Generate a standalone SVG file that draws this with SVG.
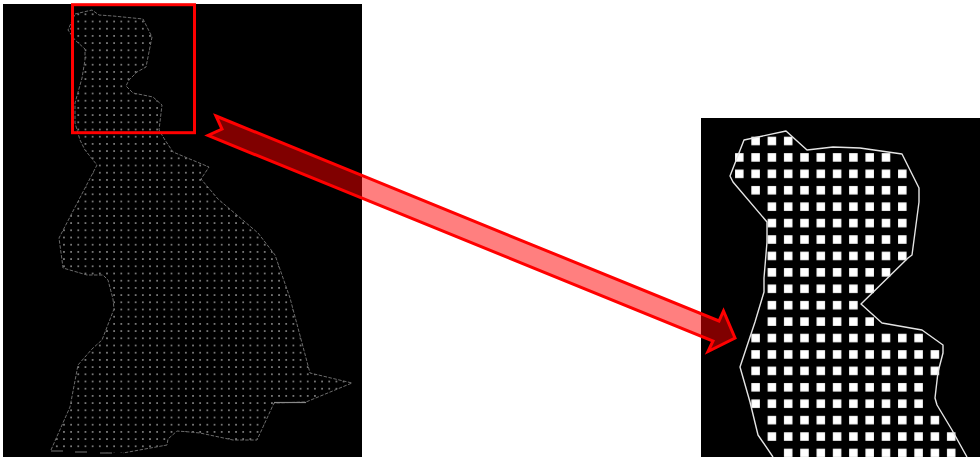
<svg xmlns="http://www.w3.org/2000/svg" width="980" height="457" viewBox="0 0 980 457">
<defs>
<pattern id="fine" patternUnits="userSpaceOnUse" x="74.7" y="10.7" width="7.17" height="7.2"><rect x="2.85" y="2.85" width="1.5" height="1.5" fill="#a8a8a8"/></pattern>
<pattern id="coarse" patternUnits="userSpaceOnUse" x="731.15" y="132.8" width="16.3" height="16.42"><rect x="3.9" y="3.95" width="8.5" height="8.5" fill="#fff"/></pattern>
<clipPath id="leftClip"><polygon points="75,14 92,10 99,15 113,16 143,19 152,37 148,57 146,67 137,72 129,80 126,86 133,93 153,97 162,105 159,130 165,140 173,152 209,167 201,179 218,199 258,233 275,255 290,298 310,373 352,383 306,402 274,403 257,440 233,440 200,433 190,432 177,431 168,439 167,445 123,453 51,450 70,407 78,365 92,349 102,340 114,309 113,299 108,280 103,275 87,275 63,268 62,260 59,238 97,165 85,150 80,140 75,123 75,103 82,78 85,60 85,49 75,40 68,30"/></clipPath>
</defs>
<style>
.bg{fill:#000}
.outlineL{fill:none;stroke:#6a6a6a;stroke-width:1;stroke-dasharray:3.5 1.5}
.outlineR{fill:none;stroke:#e4e4e4;stroke-width:1.4;stroke-linejoin:round}
.frame{fill:none;stroke:#f00;stroke-width:3}
.arrow{fill:#f00;fill-opacity:.5;stroke:#f00;stroke-width:3;stroke-linejoin:miter}
</style>
<rect width="980" height="457" fill="#fff"/>
<g id="left-map">
<rect class="bg" x="3" y="4" width="359" height="453"/>
<rect x="50" y="8" width="305" height="445" fill="url(#fine)" clip-path="url(#leftClip)"/>
<polyline class="outlineL" points="75,14 92,10 99,15 113,16 143,19 152,37 148,57 146,67 137,72 129,80 126,86 133,93 153,97 162,105 159,130 165,140 173,152 209,167 201,179 218,199 258,233 275,255 290,298 310,373 352,383 306,402 274,403 257,440 233,440 200,433 190,432 177,431 168,439 167,445 123,453"/>
<polyline class="outlineL" points="51,450 70,407 78,365 92,349 102,340 114,309 113,299 108,280 103,275 87,275 63,268 62,260 59,238 97,165 85,150 80,140 75,123 75,103 82,78 85,60 85,49 75,40 68,30 75,14"/>
<path d="M51 451H63M75 452H87M100 453H112" fill="none" stroke="#777" stroke-width="1.2"/>
<path d="M274 402.5H306" fill="none" stroke="#888" stroke-width="1.2"/>
</g>
<g id="selection-frame"><rect class="frame" x="72.5" y="4.7" width="122" height="128"/></g>
<g id="right-detail">
<rect class="bg" x="701" y="118" width="279" height="339"/>
<g fill="url(#coarse)">
<rect x="747.45" y="132.8" width="48.9" height="16.42"/>
<rect x="731.15" y="149.22" width="163" height="16.42"/>
<rect x="731.15" y="165.64" width="179.3" height="16.42"/>
<rect x="747.45" y="182.06" width="163" height="16.42"/>
<rect x="763.75" y="198.48" width="146.7" height="16.42"/>
<rect x="763.75" y="214.9" width="146.7" height="16.42"/>
<rect x="763.75" y="231.32" width="146.7" height="16.42"/>
<rect x="763.75" y="247.74" width="146.7" height="16.42"/>
<rect x="763.75" y="264.16" width="130.4" height="16.42"/>
<rect x="763.75" y="280.58" width="114.1" height="16.42"/>
<rect x="763.75" y="297" width="97.8" height="16.42"/>
<rect x="763.75" y="313.42" width="114.1" height="16.42"/>
<rect x="747.45" y="329.84" width="179.3" height="16.42"/>
<rect x="747.45" y="346.26" width="195.6" height="16.42"/>
<rect x="747.45" y="362.68" width="195.6" height="16.42"/>
<rect x="747.45" y="379.1" width="179.3" height="16.42"/>
<rect x="747.45" y="395.52" width="179.3" height="16.42"/>
<rect x="763.75" y="411.94" width="179.3" height="16.42"/>
<rect x="763.75" y="428.36" width="195.6" height="16.42"/>
<rect x="780.05" y="444.78" width="179.3" height="12.22"/>
</g>
<polyline class="outlineR" points="773,457 758,435 750,402 740,367 755,322 764,292 764,278 767,242 767,222 733,182 730,176 744,140 786,131 807,150 833,147 860,148 902,154 919,188 919,202 912,255 908,258 861,304 882,323 922,330 943,345 943,353 938,372 935,398 937,405 952,430 967,457"/>
</g>
<g id="connectors">
<polygon class="arrow" points="216,116 719,321 723.5,311 735,338 708,351.5 713,341 208,135.5 222,129"/>
</g>
</svg>
